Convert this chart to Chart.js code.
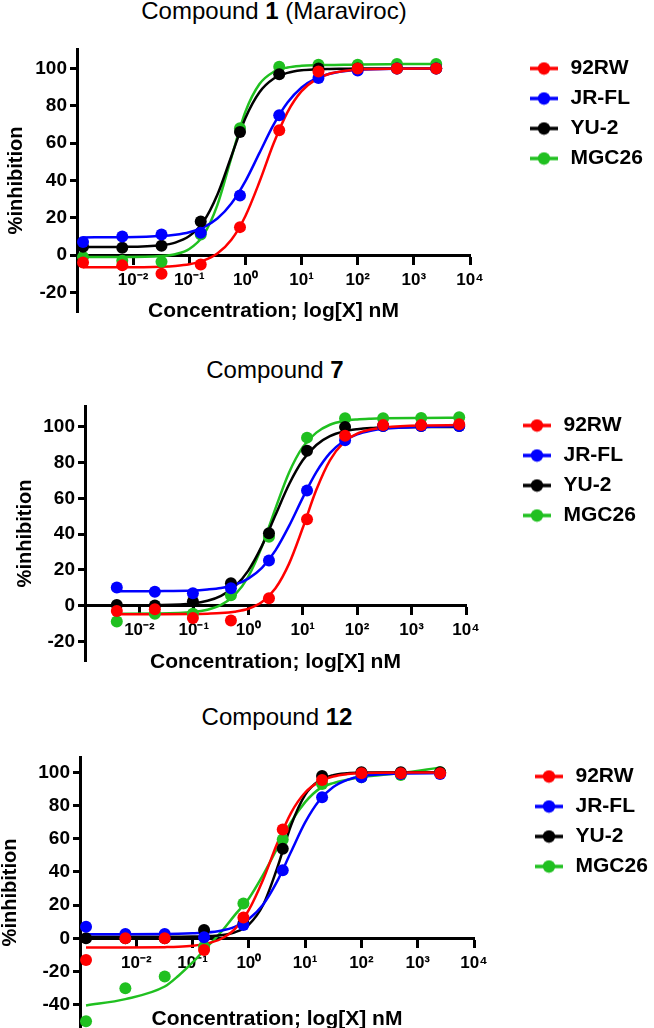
<!DOCTYPE html>
<html><head><meta charset="utf-8">
<script src="https://cdn.jsdelivr.net/npm/chart.js@4.4.0/dist/chart.umd.min.js"></script>
<style>
html,body{margin:0;padding:0;background:#fff;width:654px;height:1028px;overflow:hidden;position:relative;font-family:"Liberation Sans",Arial,sans-serif;}
.ttl{position:absolute;left:0;font-size:24px;line-height:28px;text-align:center;color:#000;white-space:nowrap;}
canvas{position:absolute;left:0;}
</style></head><body>
<div class="ttl" style="top:-3px;width:548px">Compound <b>1</b> (Maraviroc)</div>
<div class="ttl" style="top:356px;width:550px">Compound <b>7</b></div>
<div class="ttl" style="top:703px;width:554px">Compound <b>12</b></div>
<canvas id="c1" width="654" height="340" style="top:0px"></canvas>
<canvas id="c2" width="654" height="345" style="top:340px"></canvas>
<canvas id="c3" width="654" height="360" style="top:685px"></canvas>
<script>
// ---- shared ----
const seriesNames = ['92RW', 'JR-FL', 'YU-2', 'MGC26'];
const seriesColors = ['#ff0000', '#0000ff', '#000000', '#20c020'];
const xTickValues = [0.001, 0.01, 0.1, 1, 10, 100, 1000, 10000];
const xTickLabels = ['', '10⁻²', '10⁻¹', '10⁰', '10¹', '10²', '10³', '10⁴'];
const yTicksMain = [-20, 0, 20, 40, 60, 80, 100];
const yTicksWide = [-40, -20, 0, 20, 40, 60, 80, 100];
const xTitle = 'Concentration; log[X] nM';
const yTitle = '%inhibition';

// ---- Compound 1 (Maraviroc) ----
const cmp1Conc = [0.00128, 0.0064, 0.032, 0.16, 0.8, 4, 20, 100, 500, 2500];
const cmp1_92RW = [-4, -5.5, -10, -5, 15, 67, 98.5, 100, 100, 100];
const cmp1_JRFL = [7, 10, 11, 12, 32, 75, 95, 99, 100, 100];
const cmp1_YU2 = [4.5, 4, 5, 18, 66, 97, 100, 100, 100, 100];
const cmp1_MGC26 = [-1, -3, -3.5, 11, 68, 101, 102, 102, 102.5, 102.5];
const cmp1FitConc = [0.00128, 0.0064, 0.032, 0.0562, 0.1, 0.178, 0.316, 0.562, 1, 1.78, 3.16, 5.62, 10, 17.8, 31.6, 56.2, 100, 500, 2500];
const cmp1Fit_92RW = [-6.5, -6.5, -6.2, -5.8, -4.9, -3.0, 0.8, 8.2, 21.0, 39.3, 59.7, 76.7, 87.9, 94.1, 97.2, 98.7, 99.4, 99.9, 100];
const cmp1Fit_JRFL = [9.5, 9.6, 10.2, 10.9, 12.3, 14.9, 19.6, 27.7, 39.7, 54.8, 69.8, 81.8, 89.9, 94.6, 97.2, 98.6, 99.3, 99.9, 100];
const cmp1Fit_YU2 = [4.3, 4.4, 5.3, 6.7, 10.2, 17.8, 32.3, 53.0, 73.5, 87.3, 94.5, 97.7, 99.1, 99.6, 99.8, 99.9, 100, 100, 100];
const cmp1Fit_MGC26 = [-1, -1, -0.5, 0.5, 3.3, 10.6, 26.8, 52.3, 76.9, 91.7, 98.2, 100.6, 101.5, 101.8, 101.9, 102, 102.2, 102.4, 102.5];

// ---- Compound 7 ----
const cmp7Conc = [0.00384, 0.0192, 0.096, 0.48, 2.4, 12, 60, 300, 1500, 7500];
const cmp7_92RW = [-3, -2, -7, -8.4, 4.1, 48.3, 95, 101, 101, 101.5];
const cmp7_JRFL = [10.1, 7.8, 6.9, 9.7, 25.2, 64.4, 92.5, 100.5, 100.5, 100.5];
const cmp7_YU2 = [0.4, 0, 2.3, 12.5, 40.5, 86.6, 100, 100.5, 100.5, 100.5];
const cmp7_MGC26 = [-8.9, -4.5, -4.6, 5.8, 38.5, 94, 104.9, 104.9, 105, 105.4];
const cmp7FitConc = [0.00384, 0.0192, 0.096, 0.178, 0.316, 0.562, 1, 1.78, 3.16, 5.62, 10, 17.8, 31.6, 56.2, 100, 178, 316, 1500, 7500];
const cmp7Fit_92RW = [-4.8, -4.8, -4.7, -4.5, -4.2, -3.4, -1.75, 2.0, 9.7, 23.5, 43.4, 64.8, 81.3, 91.2, 96.3, 98.6, 99.7, 100.8, 101];
const cmp7Fit_JRFL = [8, 8.1, 8.4, 9.0, 9.9, 11.7, 15.1, 21.1, 30.9, 44.6, 60.3, 74.7, 85.3, 92.0, 95.8, 97.8, 98.9, 100, 100.3];
const cmp7Fit_YU2 = [0, 0.2, 1.2, 2.7, 5.5, 10.6, 19.6, 33.4, 50.7, 67.9, 81.3, 89.9, 94.8, 97.4, 98.7, 99.4, 99.7, 100, 100];
const cmp7Fit_MGC26 = [-4.5, -4.4, -3.6, -2.3, 0.4, 5.8, 16.2, 33.0, 54.4, 74.5, 88.7, 96.8, 101.2, 103.3, 104.2, 104.6, 104.8, 105, 105.1];

// ---- Compound 12 ----
const cmp12Conc = [0.00128, 0.0064, 0.032, 0.16, 0.8, 4, 20, 100, 500, 2500];
const cmp12_92RW = [-13, 0, 0, -7, 12.6, 65.5, 95.4, 99.4, 99.4, 99.4];
const cmp12_JRFL = [7, 2.6, 2.6, 0.6, 8, 41, 85, 97, 99, 99];
const cmp12_YU2 = [0, 0, 0, 5, 9, 54, 97.8, 100, 100, 100];
const cmp12_MGC26 = [-50, -30, -23, -5, 21, 59.5, 93, 97, 98.4, 100];
const cmp12FitConc = [0.00128, 0.0064, 0.032, 0.0562, 0.1, 0.178, 0.316, 0.562, 1, 1.78, 3.16, 5.62, 10, 17.8, 31.6, 56.2, 100, 500, 2500];
const cmp12Fit_92RW = [-5.5, -5.5, -5.3, -5.1, -4.5, -3.2, -0.4, 5.6, 17.1, 35.1, 56.8, 75.6, 87.8, 94.4, 97.5, 98.9, 99.5, 99.8, 99.8];
const cmp12Fit_JRFL = [2.5, 2.5, 2.6, 2.7, 3.0, 3.5, 4.6, 6.9, 11.6, 20.2, 34.1, 52.1, 69.8, 83.0, 91.1, 95.4, 97.6, 99.3, 99.5];
const cmp12Fit_YU2 = [1, 1, 1, 1, 1.1, 1.3, 1.9, 3.6, 8.3, 19.9, 42.0, 68.1, 86.4, 95.0, 98.3, 99.4, 99.8, 100, 100];
const cmp12Fit_MGC26 = [-40.4, -36.6, -29, -22.5, -14.5, -5.5, 3.5, 14, 24, 38, 54, 70, 82, 90, 93.5, 95.5, 97, 99.5, 102.8];

// ---- drawing ----
const FAMILY = '"Liberation Sans", Arial, sans-serif';
const LEGEND_FONT_SIZE = 21;
const LEGEND_PAD = 9;
const POINT_STYLE_W = 32;

function legendIcon(color) {
  const c = document.createElement('canvas');
  c.width = 30; c.height = 14;
  const g = c.getContext('2d');
  g.strokeStyle = color; g.lineWidth = 3.5;
  g.beginPath(); g.moveTo(1, 7); g.lineTo(29, 7); g.stroke();
  g.fillStyle = color;
  g.beginPath(); g.arc(15, 7, 6.2, 0, Math.PI * 2); g.fill();
  return c;
}
const legendIcons = seriesColors.map(legendIcon);

function measureLegendWidth() {
  const g = document.createElement('canvas').getContext('2d');
  g.font = 'bold ' + LEGEND_FONT_SIZE + 'px ' + FAMILY;
  const w = Math.max(...seriesNames.map(t => g.measureText(t).width));
  return LEGEND_PAD + (POINT_STYLE_W + LEGEND_FONT_SIZE / 2 + w) + 10;
}

function makePanel(id, p) {
  const legendW = measureLegendWidth();
  const canvasW = 654;
  const padRight = canvasW - p.legendLeft - legendW;
  const spacer = p.legendLeft - p.right;
  const datasets = [];
  seriesNames.forEach((name, i) => {
    datasets.push({
      label: name,
      data: p.conc.map((x, k) => ({ x: x, y: p.points[i][k] })),
      showLine: false,
      pointRadius: 6, pointHoverRadius: 6,
      pointBackgroundColor: seriesColors[i], pointBorderColor: seriesColors[i],
      pointBorderWidth: 0,
      backgroundColor: seriesColors[i], borderColor: seriesColors[i],
      order: i, clip: false
    });
  });
  seriesNames.forEach((name, i) => {
    datasets.push({
      label: name + ' fit',
      data: p.fitConc.map((x, k) => ({ x: x, y: p.fits[i][k] })),
      showLine: true, pointRadius: 0, pointHoverRadius: 0,
      borderColor: seriesColors[i], borderWidth: 2.5,
      cubicInterpolationMode: 'monotone', fill: false,
      order: 10 + i, clip: false
    });
  });
  return new Chart(document.getElementById(id), {
    type: 'scatter',
    data: { datasets },
    options: {
      responsive: false, animation: false, devicePixelRatio: 1,
      layout: { padding: { left: 0, right: padRight, top: p.padTop, bottom: p.padBottom } },
      plugins: {
        tooltip: { enabled: false },
        title: { display: false },
        legend: {
          display: true, position: 'right', align: 'start', maxWidth: 400,
          labels: {
            usePointStyle: true, pointStyleWidth: POINT_STYLE_W, padding: LEGEND_PAD,
            color: '#000', font: { family: FAMILY, size: LEGEND_FONT_SIZE, weight: 'bold' },
            generateLabels: () => seriesNames.map((n, i) => ({
              text: n, fillStyle: seriesColors[i], strokeStyle: seriesColors[i], lineWidth: 0,
              pointStyle: legendIcons[i], hidden: false, datasetIndex: i, fontColor: '#000'
            }))
          }
        }
      },
      scales: {
        x: {
          type: 'logarithmic', min: 0.001, max: 10000, position: { y: 0 },
          afterBuildTicks: s => { s.ticks = xTickValues.map(v => ({ value: v })); },
          ticks: {
            autoSkip: false, maxRotation: 0, minRotation: 0, padding: 7, color: '#000',
            font: { family: FAMILY, size: 17, weight: 'bold' },
            callback: (v, i) => xTickLabels[i]
          },
          grid: { display: true, drawOnChartArea: false, drawTicks: true, tickLength: 8, tickWidth: 3, tickColor: '#000' },
          border: { display: true, color: '#000', width: 3 },
          title: { display: true, text: xTitle, color: '#000', font: { family: FAMILY, size: 21, weight: 'bold' }, padding: { top: p.xTitlePad, bottom: 0 } }
        },
        y: {
          type: 'linear', min: p.yMin, max: p.yMax, position: 'left',
          afterBuildTicks: s => { s.ticks = p.yTicks.map(v => ({ value: v })); },
          afterFit: s => { s.width = p.left; },
          ticks: { color: '#000', padding: 3, font: { family: FAMILY, size: 19, weight: 'bold' }, callback: v => String(v) },
          grid: { display: true, drawOnChartArea: false, drawTicks: true, tickLength: 7, tickWidth: 3, tickColor: '#000' },
          border: { display: true, color: '#000', width: 3 },
          title: { display: true, text: yTitle, color: '#000', font: { family: FAMILY, size: 20, weight: 'bold', lineHeight: 1 }, padding: { top: p.yTitlePad, bottom: 0 } }
        },
        spacer: {
          axis: 'y', type: 'linear', position: 'right', display: true,
          grid: { display: false, drawTicks: false }, border: { display: false },
          ticks: { display: false },
          afterFit: s => { s.width = spacer; }
        }
      }
    }
  });
}

makePanel('c1', {
  conc: cmp1Conc, points: [cmp1_92RW, cmp1_JRFL, cmp1_YU2, cmp1_MGC26],
  fitConc: cmp1FitConc, fits: [cmp1Fit_92RW, cmp1Fit_JRFL, cmp1Fit_YU2, cmp1Fit_MGC26],
  yMin: -30.5, yMax: 110.5, yTicks: yTicksMain,
  left: 77, right: 470, legendLeft: 519, padTop: 49, padBottom: 28, xTitlePad: 1, yTitlePad: 6.5
});
makePanel('c2', {
  conc: cmp7Conc, points: [cmp7_92RW, cmp7_JRFL, cmp7_YU2, cmp7_MGC26],
  fitConc: cmp7FitConc, fits: [cmp7Fit_92RW, cmp7Fit_JRFL, cmp7Fit_YU2, cmp7Fit_MGC26],
  yMin: -31, yMax: 111.7, yTicks: yTicksMain,
  left: 85, right: 466, legendLeft: 512, padTop: 66, padBottom: 24, xTitlePad: 1.5, yTitlePad: 15.5
});
makePanel('c3', {
  conc: cmp12Conc, points: [cmp12_92RW, cmp12_JRFL, cmp12_YU2, cmp12_MGC26],
  fitConc: cmp12FitConc, fits: [cmp12Fit_92RW, cmp12Fit_JRFL, cmp12Fit_YU2, cmp12Fit_MGC26],
  yMin: -54, yMax: 109.2, yTicks: yTicksWide,
  left: 80, right: 474, legendLeft: 524, padTop: 72, padBottom: 17, xTitlePad: 26, yTitlePad: 0
});
</script>
</body></html>
